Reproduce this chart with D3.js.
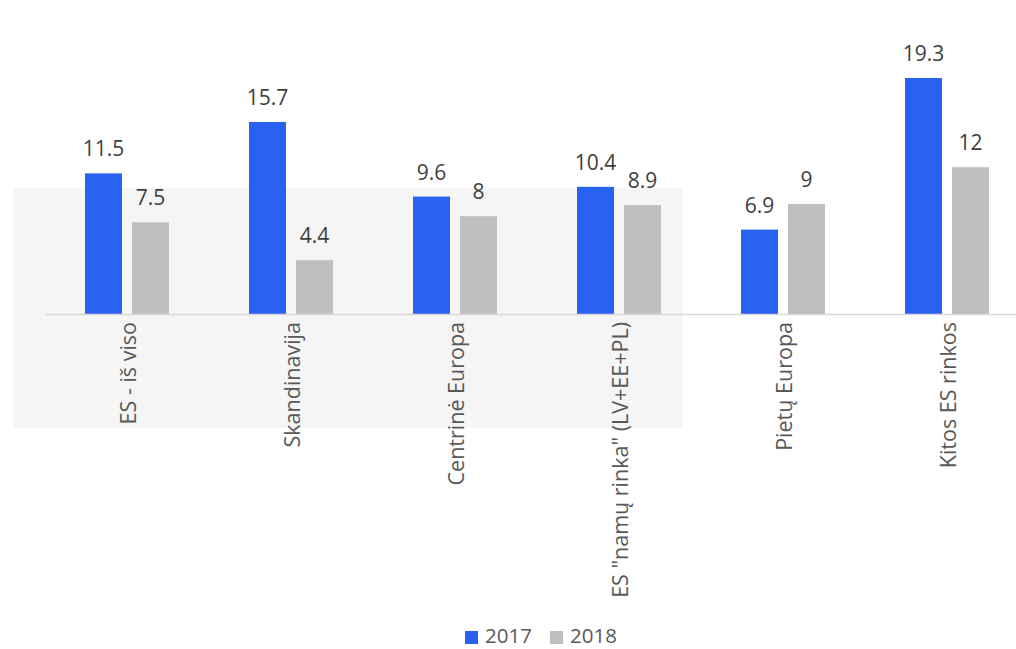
<!DOCTYPE html>
<html lang="lt">
<head>
    <meta charset="UTF-8">
    <title>ES rinkos 2017-2018</title>
    <script src="https://cdnjs.cloudflare.com/ajax/libs/d3/7.8.5/d3.min.js"></script>
    <style>
        body {
            margin: 0;
            background: #fff;
            font-family: "Open Sans", "Noto Sans", Arial, sans-serif;
        }
        svg { display: block; }
    </style>
</head>
<body>
    <svg id="svg" width="1016" height="649"></svg>
    <script>
        const categories = ["ES - iš viso", "Skandinavija", "Centrinė Europa", "ES \"namų rinka\" (LV+EE+PL)", "Pietų Europa", "Kitos ES rinkos"];
        const values2017 = [11.5, 15.7, 9.6, 10.4, 6.9, 19.3];
        const values2018 = [7.5, 4.4, 8, 8.9, 9, 12];
        const seriesNames = ["2017", "2018"];
        const colors = ["#2962F0", "#BFBFBF"];

        const svg = d3.select("#svg");
        const baseY = 314;

        // shaded box behind the first four groups
        svg.append("rect")
            .attr("x", 14).attr("y", 188)
            .attr("width", 669).attr("height", 240)
            .attr("fill", "#F5F5F5");

        const x = d3.scaleBand()
            .domain(categories)
            .range([45, 1029])
            .paddingInner(0)
            .paddingOuter(0);

        const y = d3.scaleLinear()
            .domain([0, 20])
            .range([baseY, baseY - 244.6]);

        const series = seriesNames.map((name, i) => ({
            name: name,
            color: colors[i],
            values: i === 0 ? values2017 : values2018
        }));

        const barW = 37;
        const gap = 10;

        series.forEach((s, si) => {
            const offset = si === 0 ? -gap / 2 - barW : gap / 2;
            const g = svg.append("g");
            g.selectAll("rect")
                .data(categories)
                .enter()
                .append("rect")
                .attr("x", d => x(d) + x.bandwidth() / 2 + offset)
                .attr("y", (d, i) => y(s.values[i]))
                .attr("width", barW)
                .attr("height", (d, i) => baseY - y(s.values[i]))
                .attr("fill", s.color);

            g.selectAll("text")
                .data(categories)
                .enter()
                .append("text")
                .attr("x", d => x(d) + x.bandwidth() / 2 + offset + barW / 2)
                .attr("y", (d, i) => y(s.values[i]) - 17)
                .attr("text-anchor", "middle")
                .attr("font-size", 21)
                .attr("fill", "#404040")
                .text((d, i) => s.values[i]);
        });

        // axis line
        svg.append("line")
            .attr("x1", 45).attr("x2", 1016)
            .attr("y1", baseY + 0.5).attr("y2", baseY + 0.5)
            .attr("stroke", "#D9D9D9")
            .attr("stroke-width", 1.5);

        // rotated category labels
        svg.append("g")
            .selectAll("text")
            .data(categories)
            .enter()
            .append("text")
            .attr("transform", d => `translate(${x(d) + x.bandwidth() / 2 + 8.5},${baseY + 8}) rotate(-90)`)
            .attr("text-anchor", "end")
            .attr("font-size", 21.5)
            .attr("fill", "#595959")
            .text(d => d);

        // legend
        const legend = svg.append("g").attr("transform", "translate(465,643)");
        const legX = [0, 85];
        series.forEach((s, i) => {
            legend.append("rect")
                .attr("x", legX[i]).attr("y", -12)
                .attr("width", 13).attr("height", 13)
                .attr("fill", s.color);
            legend.append("text")
                .attr("x", legX[i] + 20).attr("y", 0)
                .attr("font-size", 20.5)
                .attr("fill", "#595959")
                .text(s.name);
        });
    </script>
</body>
</html>
